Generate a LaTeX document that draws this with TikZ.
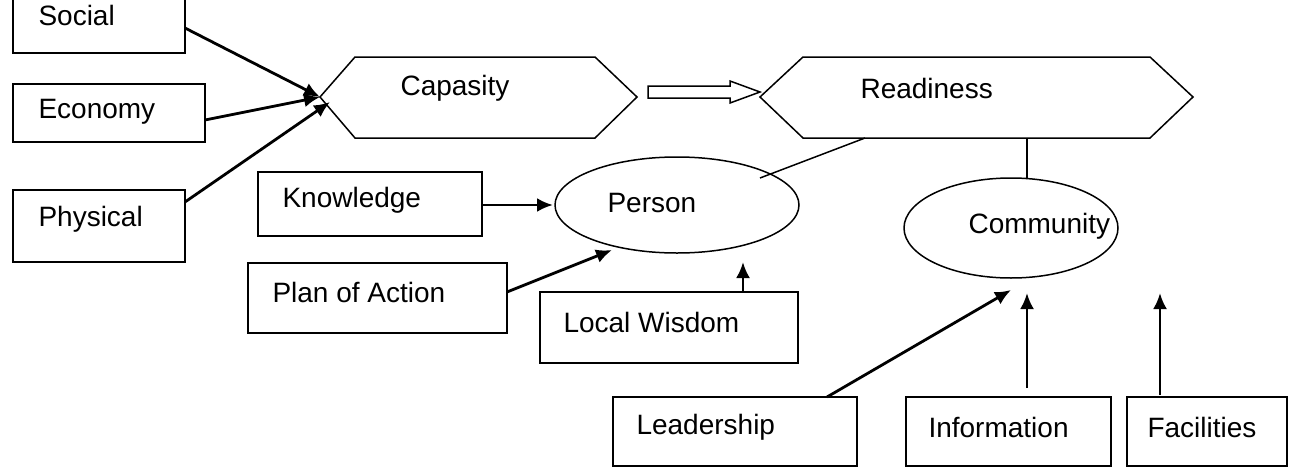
\documentclass[tikz,border=0pt]{standalone}
\usepackage{fontspec}
\setmainfont{Liberation Sans}
\usetikzlibrary{arrows.meta,shapes.geometric}
\begin{document}
\begin{tikzpicture}[x=1pt,y=-1pt,
  lab/.style={anchor=west,font=\fontsize{28}{31}\selectfont},
  arr/.style={line width=2.8pt,-{Latex[length=16pt,width=14pt]}},
  ln/.style={line width=1.5pt}]
\useasboundingbox (0,0) rectangle (1304,474);
% boxes
\draw[ln] (13,-2) rectangle (185,53); \node[lab] (social) at (35,15) {Social};
\coordinate (socialE) at (185,28);
\draw[ln] (13,84) rectangle (205,142); \node[lab] (economy) at (35,112) {Economy};
\coordinate (economyE) at (205,120);
\draw[ln] (13,190) rectangle (185,262); \node[lab] (physical) at (35,219) {Physical};
\coordinate (physicalE) at (185,202);
\draw[ln] (258,172) rectangle (482,236); \node[lab] (knowledge) at (279,200) {Knowledge};
\coordinate (knowledgeE) at (482,205);
\draw[ln] (248,263) rectangle (507,333); \node[lab] (plan) at (269,292) {Plan of Action};
\coordinate (planE) at (507,292);
\draw[ln] (540,292) rectangle (798,363); \node[lab] (local) at (560,322) {Local Wisdom};
\coordinate (localN) at (743,292);
\draw[ln] (613,397) rectangle (857,466); \node[lab] (leader) at (633,427) {Leadership};
\coordinate (leaderN) at (827,397);
\draw[ln] (906,397) rectangle (1111,466); \node[lab] (info) at (925,427) {Information};
\coordinate (infoN) at (1027,388);
\draw[ln] (1127,397) rectangle (1287,466); \node[lab] (fac) at (1144,427) {Facilities};
\coordinate (facN) at (1160,395);
% hexagons
\draw[ln] (320,97) coordinate (capW) -- (355,57) -- (595,57) -- (637,97) -- (595,138) -- (355,138) -- cycle;
\node[lab] (cap) at (397,88) {Capasity};
\draw[ln] (760,97) -- (803,57) -- (1150,57) -- (1193,97) -- (1150,138) -- (803,138) -- cycle;
\coordinate (readS1) at (865,138); \coordinate (readS2) at (1027,138);
\node[lab] (read) at (857,88) {Readiness};
% open arrow
\draw[ln] (648,86) -- (730,86) -- (730,81) -- (760,92) -- (730,103) -- (730,98) -- (648,98) -- cycle;
% ellipses
\node[draw,ln,ellipse,minimum width=244pt,minimum height=96pt] (person) at (677,205) {};
\node[lab] at (604,203) {Person};
\node[draw,ln,ellipse,minimum width=214pt,minimum height=100pt] (comm) at (1011,228) {};
\node[lab] at (965,226) {Community};
% connectors
\draw[arr] (socialE) -- (capW);
\draw[arr] (economyE) -- (capW);
\draw[arr] (physicalE) -- (330,102);
\draw[arr] (knowledgeE) -- (553,205);
\draw[arr] (planE) -- (612,250);
\draw[arr] (localN) -- (743,262);
\draw[arr] (leaderN) -- (1011,290);
\draw[arr] (infoN) -- (1027,293);
\draw[arr] (facN) -- (1160,293);
\draw[ln] (760,178) -- (readS1);
\draw[ln] (1027,178) -- (readS2);
\end{tikzpicture}
\end{document}
